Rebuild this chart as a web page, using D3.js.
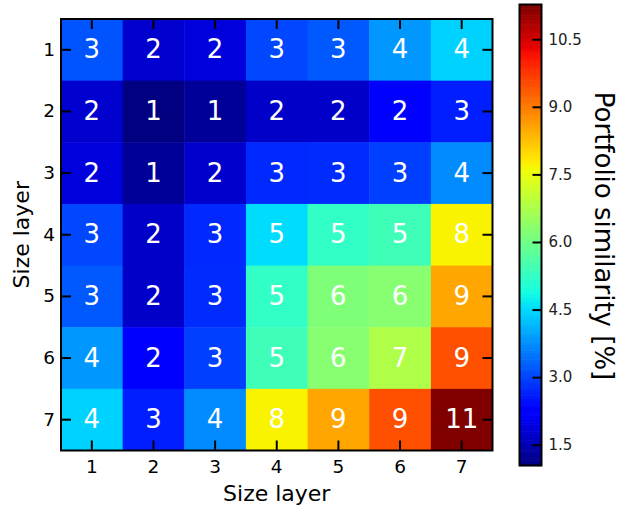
<!DOCTYPE html>
<html>
<head>
<meta charset="utf-8">
<script src="https://cdn.jsdelivr.net/npm/d3@7"></script>
<style>
  html, body { margin: 0; padding: 0; background: #fff; }
  svg { display: block; font-family: "DejaVu Sans", sans-serif; }
</style>
</head>
<body>
<svg id="chart" width="619" height="506"></svg>
<script>
// Size layers on both axes
const layers = [1, 2, 3, 4, 5, 6, 7];

// Portfolio similarity [%], one row per size layer (rows top to bottom)
const row1 = [3.16, 1.74, 1.86, 3.03, 3.20, 3.84, 4.42];
const row2 = [1.74, 1.04, 1.26, 1.68, 1.70, 2.22, 2.62];
const row3 = [1.86, 1.26, 1.72, 2.72, 2.75, 2.95, 3.72];
const row4 = [3.03, 1.68, 2.72, 4.53, 5.24, 5.40, 7.72];
const row5 = [3.20, 1.70, 2.75, 5.24, 6.20, 6.30, 8.55];
const row6 = [3.84, 2.22, 2.95, 5.40, 6.30, 6.80, 9.48];
const row7 = [4.42, 2.62, 3.72, 7.72, 8.55, 9.48, 11.27];
const similarity = [row1, row2, row3, row4, row5, row6, row7];

// Colorbar tick values
const colorbarTicks = [1.5, 3.0, 4.5, 6.0, 7.5, 9.0, 10.5];

// Jet colormap (piecewise linear, same breakpoints as matplotlib's "jet")
function piecewise(points, t) {
  for (let i = 1; i < points.length; i++) {
    if (t <= points[i][0]) {
      const [x0, y0] = points[i - 1], [x1, y1] = points[i];
      return y0 + (y1 - y0) * (t - x0) / (x1 - x0);
    }
  }
  return points[points.length - 1][1];
}
const jetR = [[0, 0], [0.35, 0], [0.66, 1], [0.89, 1], [1, 0.5]];
const jetG = [[0, 0], [0.125, 0], [0.375, 1], [0.64, 1], [0.91, 0], [1, 0]];
const jetB = [[0, 0.5], [0.11, 1], [0.34, 1], [0.65, 0], [1, 0]];
function interpolateJet(t) {
  t = Math.max(0, Math.min(1, t));
  const c = v => Math.round(255 * v);
  return d3.rgb(c(piecewise(jetR, t)), c(piecewise(jetG, t)), c(piecewise(jetB, t))).formatHex();
}

const cells = [];
similarity.forEach((row, i) => row.forEach((v, j) => {
  cells.push({ row: layers[i], col: layers[j], value: v });
}));

const extent = d3.extent(cells, d => d.value);
const color = d3.scaleSequential(interpolateJet).domain(extent);

const svg = d3.select("#chart");

// Heatmap geometry
const hm = { left: 61, top: 19, width: 431.5, height: 431.5 };
const x = d3.scaleBand().domain(layers).range([hm.left, hm.left + hm.width]);
const y = d3.scaleBand().domain(layers).range([hm.top, hm.top + hm.height]);

const g = svg.append("g");

g.selectAll("rect.cell")
  .data(cells)
  .join("rect")
  .attr("class", "cell")
  .attr("x", d => x(d.col))
  .attr("y", d => y(d.row))
  .attr("width", x.bandwidth() + 0.5)
  .attr("height", y.bandwidth() + 0.5)
  .attr("fill", d => color(d.value));

g.selectAll("text.cell-label")
  .data(cells)
  .join("text")
  .attr("class", "cell-label")
  .attr("x", d => x(d.col) + x.bandwidth() / 2)
  .attr("y", d => y(d.row) + y.bandwidth() / 2 + 8.5)
  .attr("text-anchor", "middle")
  .attr("fill", "#fff")
  .style("font-size", "26px")
  .text(d => Math.round(d.value));

// Axes with inward ticks on all four sides
function styleAxis(sel, fontSize) {
  sel.select(".domain").remove();
  sel.selectAll(".tick line").attr("stroke", "#000").attr("stroke-width", 2);
  sel.selectAll(".tick text")
    .attr("fill", "#000")
    .style("font-family", "DejaVu Sans, sans-serif")
    .style("font-size", fontSize);
}

g.append("g")
  .attr("transform", `translate(0,${hm.top + hm.height})`)
  .call(d3.axisBottom(x).tickSize(-10).tickPadding(9))
  .call(styleAxis, "18.5px");

g.append("g")
  .attr("transform", `translate(0,${hm.top})`)
  .call(d3.axisTop(x).tickSize(-10).tickFormat(""))
  .call(styleAxis, "18.5px");

g.append("g")
  .attr("transform", `translate(${hm.left},0)`)
  .call(d3.axisLeft(y).tickSize(-10).tickPadding(6))
  .call(styleAxis, "18.5px");

g.append("g")
  .attr("transform", `translate(${hm.left + hm.width},0)`)
  .call(d3.axisRight(y).tickSize(-10).tickFormat(""))
  .call(styleAxis, "18.5px");

g.append("rect")
  .attr("x", hm.left).attr("y", hm.top)
  .attr("width", hm.width).attr("height", hm.height)
  .attr("fill", "none").attr("stroke", "#000").attr("stroke-width", 2);

// Axis titles
svg.append("text")
  .attr("x", hm.left + hm.width / 2)
  .attr("y", 501)
  .attr("text-anchor", "middle")
  .style("font-size", "22px")
  .text("Size layer");

svg.append("text")
  .attr("transform", `translate(29,${hm.top + hm.height / 2}) rotate(-90)`)
  .attr("text-anchor", "middle")
  .style("font-size", "22px")
  .text("Size layer");

// Colorbar
const cb = { left: 519.5, top: 4.5, width: 22, height: 461 };
const cbScale = d3.scaleLinear().domain(extent).range([cb.top + cb.height, cb.top]);
const steps = d3.range(0, 256).map(i => extent[0] + (extent[1] - extent[0]) * i / 255);
const stepH = cb.height / 256;

svg.append("g")
  .selectAll("rect")
  .data(steps)
  .join("rect")
  .attr("x", cb.left)
  .attr("y", (d, i) => cb.top + cb.height - (i + 1) * stepH)
  .attr("width", cb.width)
  .attr("height", stepH + 0.6)
  .attr("fill", d => color(d));

svg.append("g")
  .attr("transform", `translate(${cb.left + cb.width},0)`)
  .call(d3.axisRight(cbScale).tickValues(colorbarTicks).tickFormat(d3.format(".1f")).tickSize(-9).tickPadding(7))
  .call(sel => {
    sel.select(".domain").remove();
    sel.selectAll(".tick line").attr("stroke", "#000").attr("stroke-width", 2);
    sel.selectAll(".tick text")
      .attr("fill", "#222")
      .style("font-family", "DejaVu Sans, sans-serif")
      .style("font-size", "15px");
  });

svg.append("rect")
  .attr("x", cb.left).attr("y", cb.top)
  .attr("width", cb.width).attr("height", cb.height)
  .attr("fill", "none").attr("stroke", "#000").attr("stroke-width", 2);

svg.append("text")
  .attr("transform", `translate(595,${cb.top + cb.height / 2 + 1}) rotate(90)`)
  .attr("text-anchor", "middle")
  .style("font-size", "26px")
  .text("Portfolio similarity [%]");
</script>
</body>
</html>
